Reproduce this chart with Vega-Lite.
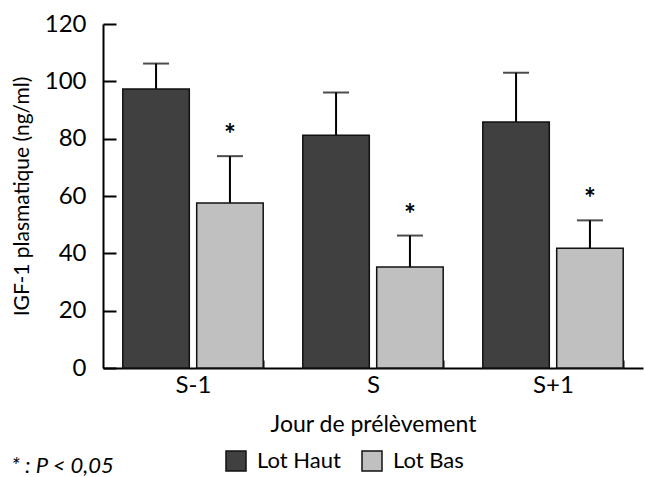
{
  "$schema": "https://vega.github.io/schema/vega-lite/v6.json",
  "width": 540,
  "height": 344,
  "autosize": "none",
  "padding": {"left": 103, "top": 24, "right": 2, "bottom": 109},
  "background": "white",
  "config": {"view": {"stroke": null}, "font": "Lato"},
  "title": {"text": "* : P < 0,05", "orient": "bottom", "anchor": "start", "dx": 0, "offset": -18, "fontStyle": "italic", "fontWeight": "normal", "fontSize": 22, "font": "Lato", "color": "black"},
  "data": {"values": [
    {"jour": "S-1", "lot": "Lot Haut", "value": 97.3, "err": 106.2, "sig": ""},
    {"jour": "S-1", "lot": "Lot Bas", "value": 57.6, "err": 73.9, "sig": "*"},
    {"jour": "S", "lot": "Lot Haut", "value": 81.2, "err": 96.1, "sig": ""},
    {"jour": "S", "lot": "Lot Bas", "value": 35.2, "err": 46.2, "sig": "*"},
    {"jour": "S+1", "lot": "Lot Haut", "value": 85.8, "err": 103, "sig": ""},
    {"jour": "S+1", "lot": "Lot Bas", "value": 41.8, "err": 51.5, "sig": "*"}
  ]},
  "encoding": {
    "x": {"field": "jour", "type": "nominal", "sort": ["S-1", "S", "S+1"],
      "scale": {"paddingInner": 0.22, "paddingOuter": 0.11},
      "axis": {"title": "Jour de prélèvement", "ticks": true, "tickBand": "extent", "tickOffset": 19.8, "labelAngle": 0,
        "domainColor": "black", "domainWidth": 2, "tickColor": "black", "tickWidth": 2, "tickSize": -8,
        "labelPadding": 13, "labelFont": "Lato", "labelFontSize": 24, "labelColor": "black",
        "titleFont": "Lato", "titleFontSize": 23, "titleFontWeight": "normal", "titleColor": "black", "titlePadding": 16}},
    "xOffset": {"field": "lot", "type": "nominal", "sort": ["Lot Haut", "Lot Bas"], "scale": {"paddingInner": 0.1}}
  },
  "layer": [
    {"mark": {"type": "rule", "strokeWidth": 2, "color": "black"},
     "encoding": {"y": {"field": "value", "type": "quantitative", "title": "IGF-1 plasmatique (ng/ml)"}, "y2": {"field": "err"}}},
    {"mark": {"type": "tick", "orient": "horizontal", "size": 26, "thickness": 2, "color": "black"},
     "encoding": {"y": {"field": "err", "type": "quantitative", "title": "IGF-1 plasmatique (ng/ml)"}}},
    {"mark": {"type": "bar", "stroke": "#111", "strokeWidth": 1.5},
     "encoding": {
       "y": {"field": "value", "type": "quantitative", "title": "IGF-1 plasmatique (ng/ml)",
         "scale": {"domain": [0, 120], "nice": false},
         "axis": {"values": [0, 20, 40, 60, 80, 100, 120], "grid": false,
           "domainColor": "black", "domainWidth": 2, "tickColor": "black", "tickWidth": 2, "tickSize": -13,
           "labelPadding": 30, "labelFont": "Lato", "labelFontSize": 24, "labelColor": "black",
           "titleFont": "Lato", "titleFontSize": 21, "titleFontWeight": "normal", "titleColor": "black", "titlePadding": 12}},
       "color": {"field": "lot", "type": "nominal", "sort": ["Lot Haut", "Lot Bas"],
         "scale": {"domain": ["Lot Haut", "Lot Bas"], "range": ["#404040", "#c0c0c0"]},
         "legend": {"title": null, "orient": "none", "legendX": 122, "legendY": 426, "direction": "horizontal",
           "symbolType": "square", "symbolSize": 400, "symbolStrokeColor": "#111", "symbolStrokeWidth": 1.5, "symbolOpacity": 1,
           "labelFont": "Lato", "labelFontSize": 22, "labelColor": "black", "columnPadding": 18, "labelOffset": 10}}
     }},
    {"mark": {"type": "text", "fontSize": 28, "fontWeight": "bold", "dy": -20, "baseline": "middle", "color": "black"},
     "encoding": {"y": {"field": "err", "type": "quantitative", "title": "IGF-1 plasmatique (ng/ml)"}, "text": {"field": "sig"}}}
  ]
}
